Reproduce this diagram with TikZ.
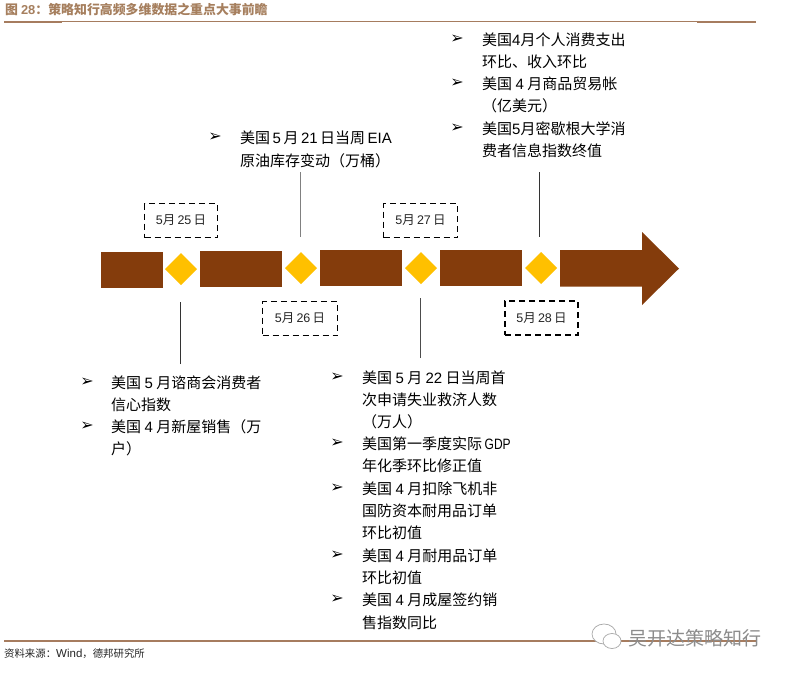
\documentclass[tikz,border=0pt]{standalone}
\usepackage{fontspec}
\setmainfont{Noto Sans CJK SC}
\newfontfamily\lat{Liberation Sans}
\newfontfamily\latn[FakeStretch=0.8]{Liberation Sans}
\newfontfamily\sym{DejaVu Sans}
\usetikzlibrary{shapes.geometric}
\definecolor{barbrown}{HTML}{843C0C}
\definecolor{gem}{HTML}{FFC000}
\definecolor{ruletan}{HTML}{A67C5F}
\definecolor{titletan}{HTML}{A67F5E}
\tikzset{
  barseg/.style={rectangle,fill=barbrown,draw=none,inner sep=0,outer sep=0,minimum height=36pt},
  gemstone/.style={diamond,fill=gem,draw=none,inner sep=0,outer sep=0,minimum width=32pt,minimum height=32pt},
  datebox/.style={rectangle,draw=black,line width=1.5pt,dash pattern=on 6pt off 4pt,inner sep=0,
     minimum height=34pt,font=\fontsize{12.5}{15}\selectfont,text=black!85},
  txt/.style={anchor=west,inner sep=0,yshift=-0.8pt,font=\fontsize{15}{17}\selectfont,text=black},
  bul/.style={anchor=center,inner sep=0,font=\fontsize{16}{18}\sym,text=black},
  leadline/.style={line width=0.9pt,draw=black!80},
  rulethin/.style={line width=0.9pt,draw=ruletan},
  rulethick/.style={line width=2pt,draw=ruletan},
}
\begin{document}
\begin{tikzpicture}[x=1pt,y=-1pt]
\useasboundingbox (0,0) rectangle (786,673);
\fill[white] (0,0) rectangle (786,673);
% header
\node[anchor=west,inner sep=0,text=titletan,font=\fontsize{12.9}{15}\selectfont\bfseries] (title) at (5,9.5)
  {图 {\lat 28}：策略知行高频多维数据之重点大事前瞻};
\coordinate (hl) at (4,21.5); \coordinate (hr) at (756,21.5);
\coordinate (hla) at (62,22); \coordinate (hlb) at (4,22);
\coordinate (hra) at (697,22); \coordinate (hrb) at (756,22);
\draw[rulethin] (hl) -- (hr);
\draw[rulethick,line width=1.5pt] (hlb) -- (hla);
\draw[rulethick,line width=1.5pt] (hra) -- (hrb);
% bars
\node[barseg,minimum width=61.5pt] (b1) at (131.75,269.75) {};
\node[barseg,minimum width=81.5pt] (b2) at (240.75,268.5) {};
\node[barseg,minimum width=82pt] (b3) at (361,268) {};
\node[barseg,minimum width=82pt] (b4) at (481,268) {};
\fill[barbrown] (560,250) -- (642,250) -- (642,232) -- (679,268.5) -- (642,305) -- (642,286.5) -- (560,286.5) -- cycle;
% diamonds
\node[gemstone] (d1) at (181,269) {};
\node[gemstone] (d2) at (301,268) {};
\node[gemstone] (d3) at (421,268) {};
\node[gemstone] (d4) at (541,268) {};
% date boxes
\node[datebox,minimum width=73pt] (t1) at (181,220.5) {{\lat 5}月{\lat\,25\,}日};
\node[datebox,minimum width=75pt] (t2) at (300,318.5) {{\lat 5}月{\lat\,26\,}日};
\node[datebox,minimum width=74pt] (t3) at (420.5,220.5) {{\lat 5}月{\lat\,27\,}日};
\node[datebox,minimum width=73pt] (t4) at (541.5,318) {{\lat 5}月{\lat\,28\,}日};
% leader lines
\coordinate (l1) at (180.5,364);
\coordinate (l2) at (300,172);
\coordinate (l3) at (420,358);
\coordinate (l4) at (539.5,172);
\draw[leadline,shorten >=17pt] (l1) -- (l1 |- d1.south);
\draw[leadline,draw=black!50,shorten >=15pt] (l2) -- (l2 |- d2.north);
\draw[leadline,draw=black!70,shorten >=14pt] (l3) -- (l3 |- d3.south);
\draw[leadline,shorten >=15pt] (l4) -- (l4 |- d4.north);
% top right block
\node[bul] (a1) at (457,39) {➢};
\node[txt] (a1t) at (482,39) {美国{\lat 4}月个人消费支出};
\node[txt] (a1u) at (482,61) {环比、收入环比};
\node[bul] (a2) at (457,83) {➢};
\node[txt] (a2t) at (482,83) {美国 {\lat 4} 月商品贸易帐};
\node[txt] (a2u) at (482,105) {（亿美元）};
\node[bul] (a3) at (457,128) {➢};
\node[txt] (a3t) at (482,128) {美国{\lat 5}月密歇根大学消};
\node[txt] (a3u) at (482,150) {费者信息指数终值};
% EIA block
\node[bul] (e1) at (215,137) {➢};
\node[txt] (e1t) at (240,137) {美国{\lat\,5\,}月{\lat\,21\,}日当周{\lat\,EIA}};
\node[txt] (e1u) at (240,160) {原油库存变动（万桶）};
% lower left block
\node[bul] (c1) at (87,382) {➢};
\node[txt] (c1t) at (111,382) {美国 {\lat 5} 月谘商会消费者};
\node[txt] (c1u) at (111,404) {信心指数};
\node[bul] (c2) at (87,426) {➢};
\node[txt] (c2t) at (111,426) {美国 {\lat 4} 月新屋销售（万};
\node[txt] (c2u) at (111,448) {户）};
% lower middle block
\node[bul] (m1) at (337,377) {➢};
\node[txt] (m1t) at (362,377) {美国 {\lat 5} 月 {\lat 22} 日当周首};
\node[txt] (m1u) at (362,399) {次申请失业救济人数};
\node[txt] (m1v) at (362,421) {（万人）};
\node[bul] (m2) at (337,443) {➢};
\node[txt] (m2t) at (362,443) {美国第一季度实际{\latn\,GDP}};
\node[txt] (m2u) at (362,465) {年化季环比修正值};
\node[bul] (m3) at (337,488) {➢};
\node[txt] (m3t) at (362,488) {美国 {\lat 4} 月扣除飞机非};
\node[txt] (m3u) at (362,510) {国防资本耐用品订单};
\node[txt] (m3v) at (362,532) {环比初值};
\node[bul] (m4) at (337,555) {➢};
\node[txt] (m4t) at (362,555) {美国 {\lat 4} 月耐用品订单};
\node[txt] (m4u) at (362,577) {环比初值};
\node[bul] (m5) at (337,599) {➢};
\node[txt] (m5t) at (362,599) {美国 {\lat 4} 月成屋签约销};
\node[txt] (m5u) at (362,622) {售指数同比};
% footer
\coordinate (fl) at (4,641); \coordinate (fr) at (756,641);
\draw[rulethick] (fl) -- (fr);
\node[anchor=west,inner sep=0,font=\fontsize{10.4}{12}\selectfont,text=black!85] (src) at (4,654)
  {资料来源：{\lat\fontsize{11.5}{12}\selectfont Wind}，德邦研究所};
% watermark
\fill[white,draw=black!35,line width=0.7pt] (604,634) ellipse (12pt and 10pt);
\fill[white,draw=black!35,line width=0.7pt] (612,641) ellipse (9pt and 7.5pt);
\node[anchor=west,inner sep=0,font=\fontsize{19}{21}\selectfont,text=black!45] (wm) at (628,638) {吴开达策略知行};
\end{tikzpicture}
\end{document}
